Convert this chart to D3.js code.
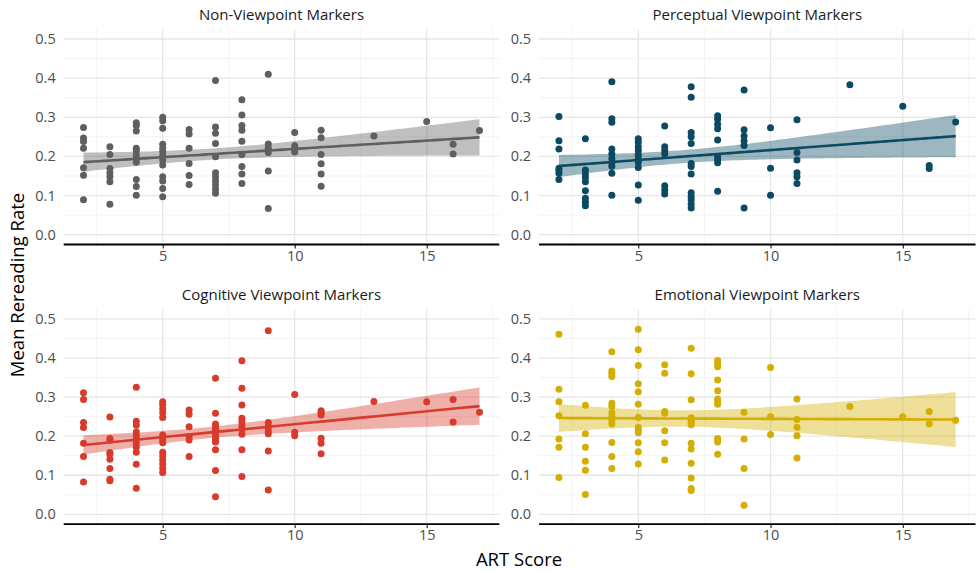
<!DOCTYPE html>
<html>
<head>
<meta charset="utf-8">
<script src="https://cdn.jsdelivr.net/npm/d3@7"></script>
<style>
  body { margin: 0; background: #fff; }
  text { font-family: "Open Sans", sans-serif; }
</style>
</head>
<body>
<svg id="svg" width="976" height="572"></svg>
<script>
// panel titles and colours
var panelNames = ["Non-Viewpoint Markers", "Perceptual Viewpoint Markers",
                  "Cognitive Viewpoint Markers", "Emotional Viewpoint Markers"];
var panelColors = ["#5f5f5f", "#0b4a62", "#d83a2b", "#d4ae00"];

var xTicks = [5, 10, 15];
var yTicks = [0, 0.1, 0.2, 0.3, 0.4, 0.5];

// points per ART score: [score, [rates...]]
var nonViewpoint = [
  [2, [0.274, 0.247, 0.238, 0.221, 0.171, 0.152, 0.089]],
  [3, [0.225, 0.205, 0.169, 0.158, 0.148, 0.135, 0.078]],
  [4, [0.286, 0.279, 0.265, 0.221, 0.215, 0.204, 0.195, 0.185, 0.141, 0.123, 0.101]],
  [5, [0.300, 0.291, 0.272, 0.231, 0.221, 0.212, 0.201, 0.191, 0.178, 0.148, 0.137, 0.118, 0.097]],
  [6, [0.269, 0.257, 0.221, 0.182, 0.151, 0.128]],
  [7, [0.394, 0.275, 0.259, 0.233, 0.199, 0.158, 0.148, 0.137, 0.127, 0.116, 0.106]],
  [8, [0.345, 0.306, 0.279, 0.267, 0.239, 0.205, 0.174, 0.155, 0.131]],
  [9, [0.410, 0.232, 0.221, 0.210, 0.163, 0.067]],
  [10, [0.261, 0.227, 0.219, 0.211]],
  [11, [0.267, 0.248, 0.205, 0.181, 0.155, 0.124]],
  [13, [0.252]],
  [15, [0.289]],
  [16, [0.231, 0.206]],
  [17, [0.266]]
];
var perceptual = [
  [2, [0.302, 0.240, 0.219, 0.170, 0.164, 0.157, 0.141]],
  [3, [0.245, 0.165, 0.155, 0.146, 0.135, 0.112, 0.093, 0.083, 0.074]],
  [4, [0.391, 0.296, 0.287, 0.219, 0.206, 0.195, 0.184, 0.175, 0.157, 0.101]],
  [5, [0.245, 0.236, 0.225, 0.215, 0.204, 0.195, 0.185, 0.172, 0.127, 0.088]],
  [6, [0.278, 0.225, 0.215, 0.206, 0.125, 0.114, 0.104]],
  [7, [0.378, 0.351, 0.261, 0.250, 0.233, 0.182, 0.174, 0.155, 0.107, 0.097, 0.089, 0.078, 0.068]],
  [8, [0.304, 0.295, 0.282, 0.271, 0.242, 0.199, 0.193, 0.184, 0.111]],
  [9, [0.370, 0.268, 0.252, 0.240, 0.228, 0.068]],
  [10, [0.273, 0.170, 0.101]],
  [11, [0.294, 0.210, 0.191, 0.158, 0.148, 0.131]],
  [13, [0.383]],
  [15, [0.328]],
  [16, [0.177, 0.169]],
  [17, [0.288]]
];
var cognitive = [
  [2, [0.311, 0.294, 0.235, 0.222, 0.182, 0.148, 0.083]],
  [3, [0.249, 0.194, 0.190, 0.158, 0.154, 0.141, 0.117, 0.090, 0.086]],
  [4, [0.325, 0.238, 0.228, 0.211, 0.201, 0.192, 0.182, 0.172, 0.159, 0.128, 0.067]],
  [5, [0.288, 0.281, 0.270, 0.260, 0.248, 0.203, 0.190, 0.183, 0.159, 0.149, 0.139, 0.129, 0.118, 0.107]],
  [6, [0.267, 0.256, 0.224, 0.199, 0.190, 0.148]],
  [7, [0.348, 0.259, 0.231, 0.224, 0.218, 0.212, 0.206, 0.199, 0.192, 0.185, 0.165, 0.112, 0.045]],
  [8, [0.393, 0.323, 0.280, 0.246, 0.237, 0.227, 0.218, 0.205, 0.165, 0.097]],
  [9, [0.470, 0.235, 0.224, 0.214, 0.206, 0.162, 0.062]],
  [10, [0.307, 0.210, 0.201]],
  [11, [0.265, 0.260, 0.254, 0.195, 0.182, 0.155]],
  [13, [0.289]],
  [15, [0.288]],
  [16, [0.294, 0.236]],
  [17, [0.261]]
];
var emotional = [
  [2, [0.461, 0.320, 0.288, 0.252, 0.193, 0.172, 0.094]],
  [3, [0.279, 0.206, 0.172, 0.136, 0.113, 0.051]],
  [4, [0.416, 0.367, 0.361, 0.353, 0.284, 0.276, 0.260, 0.250, 0.241, 0.231, 0.184, 0.148, 0.117]],
  [5, [0.474, 0.421, 0.381, 0.334, 0.314, 0.282, 0.248, 0.222, 0.215, 0.209, 0.183, 0.160, 0.129]],
  [6, [0.383, 0.361, 0.263, 0.259, 0.214, 0.183, 0.139]],
  [7, [0.425, 0.360, 0.293, 0.247, 0.241, 0.235, 0.229, 0.182, 0.167, 0.131, 0.093, 0.066, 0.061]],
  [8, [0.394, 0.386, 0.378, 0.344, 0.316, 0.295, 0.288, 0.282, 0.194, 0.185, 0.154]],
  [9, [0.261, 0.193, 0.117, 0.023]],
  [10, [0.376, 0.250, 0.204]],
  [11, [0.295, 0.243, 0.223, 0.201, 0.144]],
  [13, [0.276]],
  [15, [0.250]],
  [16, [0.263, 0.232]],
  [17, [0.241]]
];
var panelData = [nonViewpoint, perceptual, cognitive, emotional];

var svg = d3.select("#svg");

// panel boxes: [left, right], [top, bottom]
var colX = [[63.7, 499.3], [539.1, 975.5]];
var rowY = [[29.2, 244.5], [309.2, 524.1]];

function flatten(groups) {
  var pts = [];
  groups.forEach(g => g[1].forEach(v => pts.push({x: g[0], y: v})));
  return pts;
}

// linear fit with 95% confidence band, like geom_smooth(method = "lm")
function fitLm(pts) {
  var n = pts.length;
  var mx = d3.mean(pts, d => d.x), my = d3.mean(pts, d => d.y);
  var sxx = d3.sum(pts, d => (d.x - mx) * (d.x - mx));
  var sxy = d3.sum(pts, d => (d.x - mx) * (d.y - my));
  var b = sxy / sxx, a = my - b * mx;
  var sse = d3.sum(pts, d => Math.pow(d.y - a - b * d.x, 2));
  var s = Math.sqrt(sse / (n - 2));
  var t = 1.987;
  var x0 = d3.min(pts, d => d.x), x1 = d3.max(pts, d => d.x);
  var out = [];
  for (var i = 0; i < 80; i++) {
    var x = x0 + (x1 - x0) * i / 79;
    var fit = a + b * x;
    var se = s * Math.sqrt(1 / n + (x - mx) * (x - mx) / sxx);
    out.push({x: x, y: fit, lo: fit - t * se, hi: fit + t * se});
  }
  return out;
}

panelData.forEach(function(groups, i) {
  var col = i % 2, row = Math.floor(i / 2);
  var color = panelColors[i];
  var pts = flatten(groups);

  var x = d3.scaleLinear().domain([1.25, 17.75]).range(colX[col]);
  var y = d3.scaleLinear().domain([-0.025, 0.525]).range([rowY[row][1], rowY[row][0]]);

  var g = svg.append("g");

  // grid: minor then major
  var minorX = [2.5, 7.5, 12.5, 17.5];
  var minorY = [0.05, 0.15, 0.25, 0.35, 0.45];
  g.selectAll(".mx").data(minorX).enter().append("line")
    .attr("x1", d => x(d)).attr("x2", d => x(d))
    .attr("y1", y.range()[1]).attr("y2", y.range()[0])
    .style("stroke", "#f0f0f0").style("stroke-width", 0.8);
  g.selectAll(".my").data(minorY).enter().append("line")
    .attr("x1", x.range()[0]).attr("x2", x.range()[1])
    .attr("y1", d => y(d)).attr("y2", d => y(d))
    .style("stroke", "#f0f0f0").style("stroke-width", 0.8);
  g.selectAll(".gx").data(xTicks).enter().append("line")
    .attr("x1", d => x(d)).attr("x2", d => x(d))
    .attr("y1", y.range()[1]).attr("y2", y.range()[0])
    .style("stroke", "#e6e6e6").style("stroke-width", 1.3);
  g.selectAll(".gy").data(yTicks).enter().append("line")
    .attr("x1", x.range()[0]).attr("x2", x.range()[1])
    .attr("y1", d => y(d)).attr("y2", d => y(d))
    .style("stroke", "#e6e6e6").style("stroke-width", 1.3);

  // points
  g.selectAll("circle").data(pts).enter().append("circle")
    .attr("cx", d => x(d.x)).attr("cy", d => y(d.y))
    .attr("r", 3.5)
    .style("fill", color);

  // smooth
  var fit = fitLm(pts);
  g.append("path").datum(fit)
    .attr("d", d3.area().x(d => x(d.x)).y0(d => y(d.lo)).y1(d => y(d.hi)))
    .style("fill", color).style("opacity", 0.4);
  g.append("path").datum(fit)
    .attr("d", d3.line().x(d => x(d.x)).y(d => y(d.y)))
    .style("fill", "none").style("stroke", color).style("stroke-width", 2.6);

  // x axis
  var xAxis = d3.axisBottom(x).tickValues(xTicks).tickSize(4).tickPadding(2).tickFormat(d3.format("d"));
  var ax = g.append("g").attr("transform", "translate(0," + rowY[row][1] + ")").call(xAxis);
  ax.select(".domain").attr("d", "M" + x.range()[0] + ",0H" + x.range()[1])
    .style("stroke", "#000").style("stroke-width", 1.8);
  ax.selectAll(".tick line").style("stroke", "#000").style("stroke-width", 1);
  ax.selectAll(".tick text").style("font-size", "14.5px").style("fill", "#4d4d4d")
    .style("font-family", "'Open Sans', sans-serif");

  // y tick labels
  g.selectAll(".yl").data(yTicks).enter().append("text")
    .attr("x", x.range()[0] - 8).attr("y", d => y(d)).attr("dy", "0.35em")
    .attr("text-anchor", "end")
    .style("font-size", "14.5px").style("fill", "#4d4d4d")
    .text(d => d3.format(".1f")(d));

  // strip title
  g.append("text")
    .attr("x", (x.range()[0] + x.range()[1]) / 2).attr("y", rowY[row][0] - 9)
    .attr("text-anchor", "middle")
    .style("font-size", "15px").style("fill", "#1a1a1a")
    .text(panelNames[i]);
});

// axis titles
svg.append("text")
  .attr("x", 519).attr("y", 566)
  .attr("text-anchor", "middle")
  .style("font-size", "18.5px").style("fill", "#000")
  .text("ART Score");

svg.append("text")
  .attr("transform", "translate(24,285) rotate(-90)")
  .attr("text-anchor", "middle")
  .style("font-size", "18.5px").style("fill", "#000")
  .text("Mean Rereading Rate");
</script>
</body>
</html>
